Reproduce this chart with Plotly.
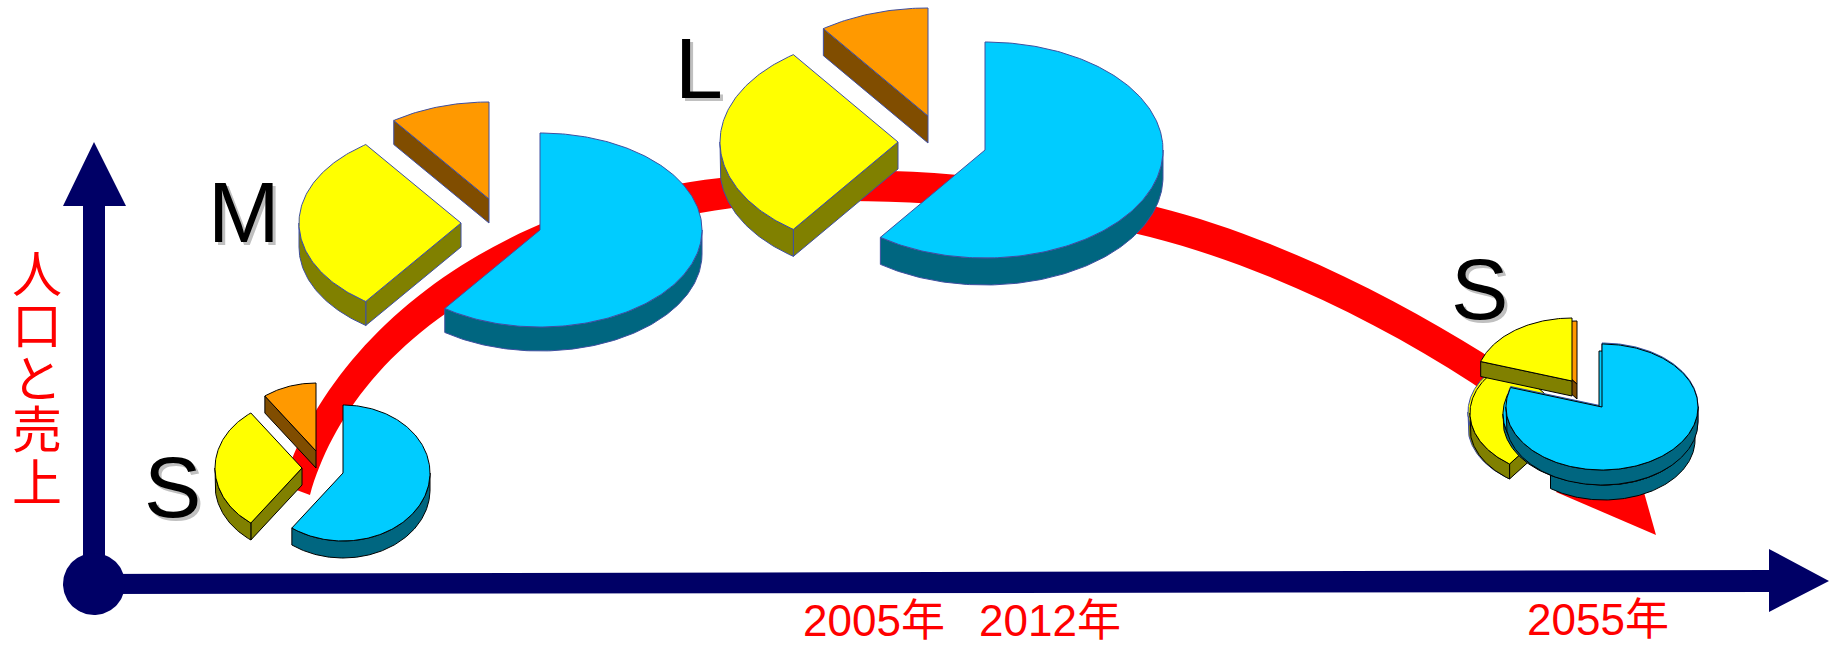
import numpy as np
import plotly.graph_objects as go

# Shares of each phase's pie, clockwise from twelve o'clock
early_shares = [60, 30, 10]
late_shares = [80, 20]

blue = ("#00CCFF", "#006680")
yellow = ("#FFFF00", "#808000")
orange = ("#FF9900", "#804D00")

# Per-pie geometry in page units: slice centres, radii and thickness
small_centers = [(343, 473), (302, 468), (316, 451)]
small_size = (87, 68, 17)
medium_centers = [(540, 230), (461, 223), (489, 199)]
medium_size = (162, 97, 24)
large_centers = [(985, 150), (898, 142), (928, 116)]
large_size = (178, 108, 27)
late_early_centers = [(1604, 425), (1566, 413), (1577, 384)]
late_early_blue_size = (91, 60, 15)
late_centers = [(1602, 407), (1572, 381)]
late_size = (96, 63, 15)
ledge_center = (1599, 414)
ledge_size = (96, 63, 7)
yellow_rim_center = (1564, 412)
blue_rim_center = (1602, 406)

# Growth curve as Bezier runs: start point, then (control, control, end) triples
curve_outer_start = (283, 485)
curve_outer_runs = [((325, 345), (480, 205), (720, 178)),
                    ((860, 160), (1030, 175), (1157, 207)),
                    ((1270, 235), (1390, 295), (1483, 353))]
curve_outer_end = (1560, 412)
curve_inner_start = (310, 495)
curve_inner_runs = [((340, 390), (440, 265), (700, 213)),
                    ((810, 192), (990, 198), (1150, 237)),
                    ((1260, 265), (1375, 320), (1472, 383))]
curve_inner_end = (1540, 430)
head_x = [1556, 1656, 1625]
head_y = [492, 535, 425]

year_labels = ["2005年", "2012年", "2055年"]
year_x = [874, 1050, 1598]
year_y = [620, 620, 619]
size_labels = ["S", "M", "L", "S"]
size_x = [172, 244, 699, 1479]
size_y = [487, 212, 68, 289]
axis_title = ["人", "口", "と", "売", "上"]
axis_title_y = [275, 327, 380, 431, 484]

NAVY = "#000066"
RED = "#FF0000"
SOFT_EDGE = "#3F4FA0"

fig = go.Figure()


def polygon(xs, ys, fill, line=None, width=1):
    fig.add_trace(go.Scatter(
        x=list(xs), y=list(ys), mode="lines", fill="toself", fillcolor=fill,
        line=dict(color=line or fill, width=width if line else 0),
        hoverinfo="skip", showlegend=False,
    ))


def arc(center, size, t0, t1, drop=0):
    cx, cy = center
    rx, ry, _ = size
    t = np.radians(np.linspace(t0, t1, max(int(abs(t1 - t0)), 2) + 1))
    return cx + rx * np.sin(t), cy - ry * np.cos(t) + drop


def draw_slice(center, size, t0, t1, colors, outline):
    """One exploded slice: back walls first, then the top face."""
    top, side = colors
    depth = size[2]
    cx, cy = center
    # wall along a radial edge when it faces the viewer
    for edge, faces_front in ((t0, 180 < t0 < 360), (t1, 0 < t1 < 180)):
        if faces_front:
            ex, ey = arc(center, size, edge, edge)
            polygon([cx, ex[0], ex[0], cx, cx],
                    [cy, ey[0], ey[0] + depth, cy + depth, cy], side, outline)
    # curved outer wall on the front half of the ellipse
    a, b = max(t0, 90), min(t1, 270)
    if b > a:
        ux, uy = arc(center, size, a, b)
        lx, ly = arc(center, size, a, b, depth)
        polygon(np.r_[ux, lx[::-1], ux[0]], np.r_[uy, ly[::-1], uy[0]], side, outline)
    ax_, ay_ = arc(center, size, t0, t1)
    polygon(np.r_[cx, ax_, cx], np.r_[cy, ay_, cy], top, outline)


def angles(shares):
    edges = np.cumsum([0] + shares) / sum(shares) * 360
    return list(zip(edges[:-1], edges[1:]))


def draw_pie(centers, size, shares, colors, outline, order):
    spans = angles(shares)
    for i in order:
        draw_slice(centers[i], size, spans[i][0], spans[i][1], colors[i], outline)


def band_path():
    """Closed outline of the growth band: outer edge forward, inner edge back."""
    p = f"M {curve_outer_start[0]} {curve_outer_start[1]}"
    for c1, c2, end in curve_outer_runs:
        p += f" C {c1[0]} {c1[1]} {c2[0]} {c2[1]} {end[0]} {end[1]}"
    p += f" L {curve_outer_end[0]} {curve_outer_end[1]} L {curve_inner_end[0]} {curve_inner_end[1]}"
    p += f" L {curve_inner_runs[-1][2][0]} {curve_inner_runs[-1][2][1]}"
    ends = [curve_inner_start] + [run[2] for run in curve_inner_runs]
    for i in range(len(curve_inner_runs) - 1, -1, -1):
        c1, c2, _ = curve_inner_runs[i]
        end = ends[i]
        p += f" C {c2[0]} {c2[1]} {c1[0]} {c1[1]} {end[0]} {end[1]}"
    return p + " Z"


# Axes
polygon([83, 83, 63, 94, 126, 105, 105, 83], [584, 206, 206, 142, 206, 206, 584, 584], NAVY)
polygon([94, 1769, 1769, 1829, 1769, 1769, 94, 94], [574, 570, 549, 581, 612, 592, 594, 574], NAVY)
theta = np.radians(np.arange(0, 361, 3))
polygon(94 + 31 * np.cos(theta), 584 + 31 * np.sin(theta), NAVY)

# Red growth arrow: the band sits under every trace, the head joins it
polygon(head_x + head_x[:1], head_y + head_y[:1], RED)
band = dict(type="path", path=band_path(), xref="x", yref="y", layer="below",
            fillcolor=RED, line=dict(width=0))

# Early, peak and late pies
three = [blue, yellow, orange]
draw_pie(medium_centers, medium_size, early_shares, three, SOFT_EDGE, [2, 1, 0])
draw_pie(large_centers, large_size, early_shares, three, SOFT_EDGE, [2, 1, 0])
draw_pie(small_centers, small_size, early_shares, three, "#000000", [2, 1, 0])

# Closing phase: the two-slice pie stacks on top of the earlier three-slice one
early_spans = angles(early_shares)
late_spans = angles(late_shares)
draw_slice(late_early_centers[2], late_size, *early_spans[2], orange, "#000000")
draw_slice(yellow_rim_center, late_size, *early_spans[1], yellow, SOFT_EDGE)
draw_slice(late_early_centers[1], late_size, *early_spans[1], yellow, "#000000")
draw_slice(late_centers[1], late_size, *late_spans[1], yellow, "#000000")
draw_slice(late_early_centers[0], late_early_blue_size, *early_spans[0], blue, "#000000")
draw_slice(blue_rim_center, late_size, *late_spans[0], blue, SOFT_EDGE)
draw_slice(ledge_center, ledge_size, *late_spans[0], blue, "#000000")
draw_slice(late_centers[0], late_size, *late_spans[0], blue, "#000000")

notes = []
for text, x, y in zip(size_labels, size_x, size_y):
    for dx, color in ((3, "#C0C0C0"), (0, "#000000")):
        notes.append(dict(x=x + dx, y=y + dx, text=text, showarrow=False,
                          font=dict(family="Liberation Sans", size=86, color=color)))
for text, x, y in zip(year_labels, year_x, year_y):
    notes.append(dict(x=x, y=y, text=text, showarrow=False,
                      font=dict(family="Liberation Sans, Noto Sans CJK JP", size=44, color=RED)))
for text, y in zip(axis_title, axis_title_y):
    notes.append(dict(x=37, y=y, text=text, showarrow=False,
                      font=dict(family="Liberation Sans, Noto Sans CJK JP", size=50, color=RED)))

fig.update_layout(
    width=1829, height=645, margin=dict(l=0, r=0, t=0, b=0),
    paper_bgcolor="white", plot_bgcolor="white",
    xaxis=dict(range=[0, 1829], visible=False, fixedrange=True),
    yaxis=dict(range=[645, 0], visible=False, fixedrange=True),
    annotations=notes, shapes=[band], showlegend=False,
)
fig.write_html("out.html")
